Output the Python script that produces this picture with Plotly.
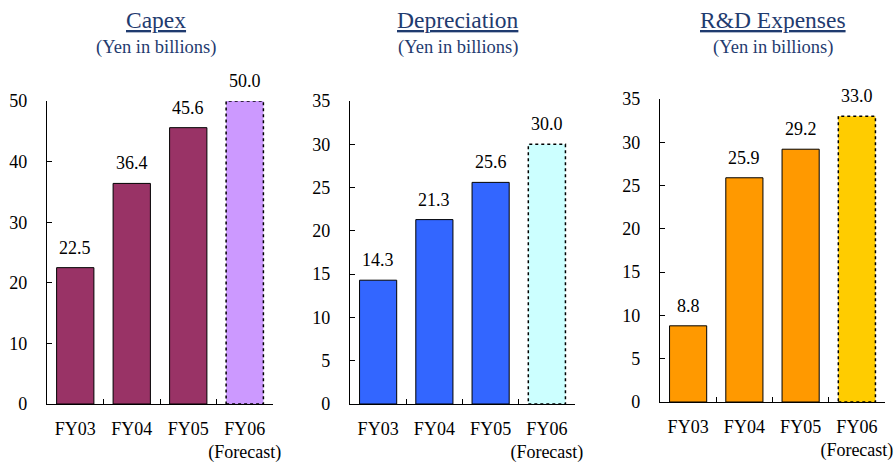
import plotly.graph_objects as go

categories = ["FY03", "FY04", "FY05", "FY06"]
tick_labels = ["FY03", "FY04", "FY05", "FY06<br>(Forecast)"]

capex = [22.5, 36.4, 45.6, 50.0]
depreciation = [14.3, 21.3, 25.6, 30.0]
rnd = [8.8, 25.9, 29.2, 33.0]

titles = ["Capex", "Depreciation", "R&amp;D Expenses"]
subtitle = "(Yen in billions)"
y_max = [50, 35, 35]
y_dtick = [10, 5, 5]

actual_colors = ["#993366", "#3366FF", "#FF9900"]
forecast_colors = ["#CC99FF", "#CCFFFF", "#FFCC00"]

series = [capex, depreciation, rnd]

FONT = "Liberation Serif"
TITLE_COLOR = "#1F3B6F"
BAR_W = 0.66

x_domains = [[47/896, 273/896], [350/896, 575/896], [660/896, 885/896]]
y_domains = [[1-404/464, 1-101/464], [1-404/464, 1-101/464], [1-402/464, 1-99/464]]
title_x = [156/896, 458/896, 773/896]

fig = go.Figure()
annotations = []
shapes = []

for i, vals in enumerate(series):
    xa = "x" if i == 0 else f"x{i+1}"
    ya = "y" if i == 0 else f"y{i+1}"
    n_act = len(vals) - 1
    fig.add_trace(go.Bar(
        x=categories[:n_act], y=vals[:n_act], xaxis=xa, yaxis=ya,
        width=BAR_W, marker=dict(color=actual_colors[i], line=dict(color="black", width=1)),
        showlegend=False, hoverinfo="x+y"))
    fig.add_trace(go.Bar(
        x=categories[n_act:], y=vals[n_act:], xaxis=xa, yaxis=ya,
        width=BAR_W, marker=dict(color=forecast_colors[i], line=dict(width=0)),
        showlegend=False, hoverinfo="x+y"))
    # dotted outline of forecast bar
    idx = n_act
    shapes.append(dict(
        type="rect", xref=xa, yref=ya,
        x0=idx - BAR_W/2, x1=idx + BAR_W/2, y0=0, y1=vals[idx],
        line=dict(color="black", width=1.5, dash="dot"), fillcolor="rgba(0,0,0,0)", layer="above"))
    for c, v in zip(categories, vals):
        annotations.append(dict(
            x=c, y=v, xref=xa, yref=ya, text=f"{v:.1f}", showarrow=False,
            yanchor="bottom", yshift=8, font=dict(family=FONT, size=18, color="black")))
    annotations.append(dict(
        x=title_x[i], y=1 - 20/464, xref="paper", yref="paper", text=f"<u>{titles[i]}</u>",
        showarrow=False, xanchor="center", yanchor="middle",
        font=dict(family=FONT, size=23.5, color=TITLE_COLOR)))
    annotations.append(dict(
        x=title_x[i], y=1 - 48/464, xref="paper", yref="paper", text=subtitle,
        showarrow=False, xanchor="center", yanchor="middle",
        font=dict(family=FONT, size=18.5, color=TITLE_COLOR)))

    xkey = "xaxis" if i == 0 else f"xaxis{i+1}"
    ykey = "yaxis" if i == 0 else f"yaxis{i+1}"
    fig.update_layout(**{
        xkey: dict(
            domain=x_domains[i], anchor=ya, type="category",
            categoryorder="array", categoryarray=categories,
            tickmode="array", tickvals=categories, ticktext=tick_labels,
            tickson="boundaries", ticks="inside", ticklen=5, tickcolor="black",
            showline=True, linecolor="black", linewidth=1.3, showgrid=False,
            range=[-0.5, 3.5], fixedrange=True, tickangle=0, automargin=False,
            ticklabelstandoff=8,
            tickfont=dict(family=FONT, size=18, color="black")),
        ykey: dict(
            domain=y_domains[i], anchor=xa, range=[0, y_max[i]],
            tickmode="linear", tick0=0, dtick=y_dtick[i],
            ticks="inside", ticklen=5, tickcolor="black",
            showline=True, linecolor="black", linewidth=1.3,
            showgrid=False, zeroline=False, ticklabelstandoff=15, automargin=False,
            tickfont=dict(family=FONT, size=18, color="black")),
    })

fig.update_layout(
    width=896, height=464,
    margin=dict(l=0, r=0, t=0, b=0, autoexpand=False),
    paper_bgcolor="white", plot_bgcolor="white",
    annotations=annotations, shapes=shapes,
    bargap=0.34,
)

fig.write_html("out.html", config={"displayModeBar": False},
               post_script="document.body.style.margin='0';document.body.style.overflow='hidden';")
